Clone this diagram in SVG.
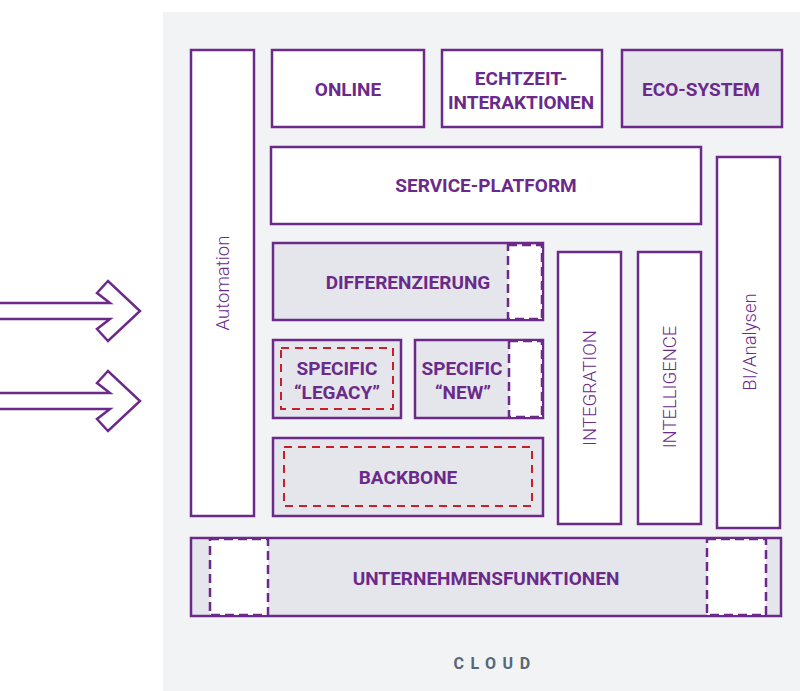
<svg xmlns="http://www.w3.org/2000/svg" width="800" height="691" viewBox="0 0 800 691">
<style>
.box{fill:#ffffff;stroke:#6b2a8a;stroke-width:2.5}
.gbox{fill:#e4e6eb;stroke:#6b2a8a;stroke-width:2.5}
.slot{fill:#ffffff;stroke:#6b2a8a;stroke-width:2.5;stroke-dasharray:9 5}
.red{fill:none;stroke:#c8202a;stroke-width:2;stroke-dasharray:8 6}
.lbl{font-family:Roboto,"Liberation Sans",sans-serif;font-weight:bold;font-size:19px;fill:#6b2a8a;text-anchor:middle}
.vl{font-family:Roboto,"Liberation Sans",sans-serif;font-weight:300;font-size:18.5px;fill:#6b2a8a;text-anchor:middle}
.arr{fill:none;stroke:#6b2a8a;stroke-width:2.5;stroke-linejoin:miter}
</style>
<rect x="0" y="0" width="800" height="691" fill="#ffffff"/>
<rect x="163" y="12" width="637" height="679" fill="#f2f3f5"/>
<g id="connectors">
<path class="arr" d="M0,303 H110 L97,293 L108,281 L140,311 L108,341 L97,329 L110,319 H0"/>
<path class="arr" d="M0,393 H110 L97,383 L108,371 L140,401 L108,431 L97,419 L110,409 H0"/>
</g>
<g id="automation"><rect class="box" x="191" y="50" width="63" height="466"/><text class="vl" font-size="19.5" transform="translate(229,283) rotate(-90)">Automation</text></g>
<g id="online"><rect class="box" x="272" y="50" width="152" height="77"/><text class="lbl" x="348" y="96">ONLINE</text></g>
<g id="echtzeit"><rect class="box" x="442" y="50" width="160" height="77"/><text class="lbl" x="521" y="85">ECHTZEIT-</text><text class="lbl" x="521" y="109">INTERAKTIONEN</text></g>
<g id="ecosystem"><rect class="gbox" x="622" y="50" width="160" height="77"/><text class="lbl" x="701" y="96">ECO-SYSTEM</text></g>
<g id="service"><rect class="box" x="271" y="147" width="430" height="77"/><text class="lbl" x="486" y="192">SERVICE-PLATFORM</text></g>
<g id="bi"><rect class="box" x="717" y="157" width="63" height="371"/><text class="vl" transform="translate(756,342) rotate(-90)">BI/Analysen</text></g>
<g id="differenzierung"><rect class="gbox" x="273" y="243" width="270" height="77"/><rect class="slot" x="508" y="245" width="34" height="74"/><text class="lbl" x="408" y="289">DIFFERENZIERUNG</text></g>
<g id="legacy"><rect class="gbox" x="273" y="340" width="128" height="78"/><rect class="red" x="281" y="348" width="112" height="61"/><text class="lbl" x="337" y="375">SPECIFIC</text><text class="lbl" x="337" y="399">“LEGACY”</text></g>
<g id="new"><rect class="gbox" x="415" y="340" width="128" height="78"/><rect class="slot" x="509" y="341" width="33" height="76"/><text class="lbl" x="462" y="375">SPECIFIC</text><text class="lbl" x="463" y="399">“NEW”</text></g>
<g id="backbone"><rect class="gbox" x="273" y="438" width="270" height="78"/><rect class="red" x="284" y="447" width="248" height="59"/><text class="lbl" x="408" y="484">BACKBONE</text></g>
<g id="integration"><rect class="box" x="558" y="252" width="63" height="272"/><text class="vl" transform="translate(596,388) rotate(-90)">INTEGRATION</text></g>
<g id="intelligence"><rect class="box" x="638" y="252" width="63" height="272"/><text class="vl" transform="translate(676,387) rotate(-90)">INTELLIGENCE</text></g>
<g id="unternehmensfunktionen"><rect class="gbox" x="191" y="538" width="590" height="78"/><rect class="slot" x="210" y="539" width="58" height="76"/><rect class="slot" x="707" y="539" width="59" height="76"/><text class="lbl" x="486" y="585">UNTERNEHMENSFUNKTIONEN</text></g>
<g id="cloud"><text x="495" y="669" font-family="Roboto,'Liberation Sans',sans-serif" font-weight="bold" font-size="16" letter-spacing="6.5" fill="#56677a" text-anchor="middle">CLOUD</text></g>
</svg>
